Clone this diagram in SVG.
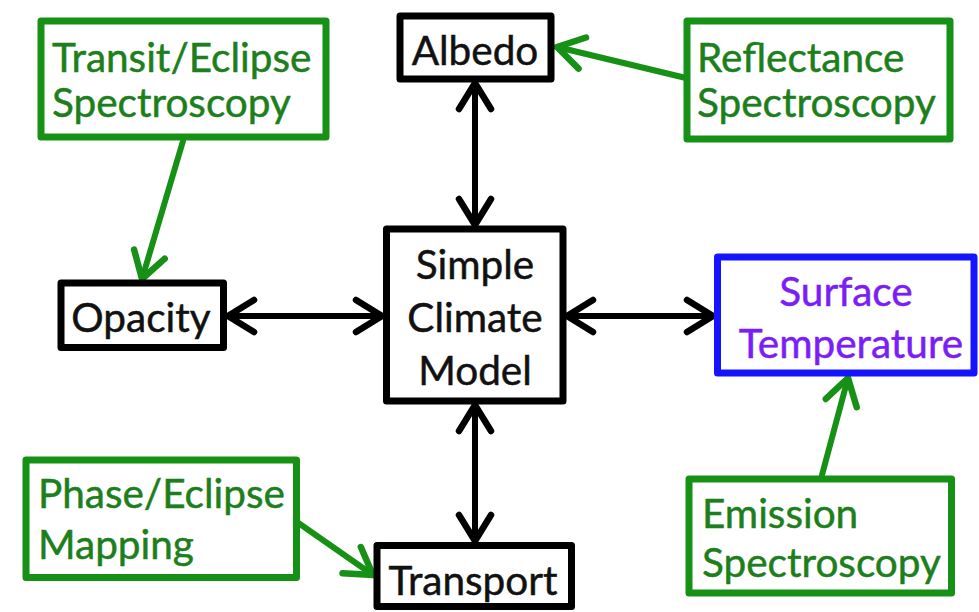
<svg xmlns="http://www.w3.org/2000/svg" width="979" height="612" viewBox="0 0 979 612">
  <style>
    text { font-family: Lato, "Open Sans", "Liberation Sans", sans-serif; font-size: 40.5px; stroke-width: 0.5; }
    .box { fill: #ffffff; stroke-width: 7; stroke-linejoin: round; }
    .core { stroke: #000000; }
    .obs { stroke: #169116; }
    .target { stroke: #1414ff; }
    .lbl-core { fill: #111111; stroke: #111111; text-anchor: middle; }
    .lbl-obs { fill: #1c7f1c; stroke: #1c7f1c; }
    .lbl-target { fill: #7a1ef5; stroke: #7a1ef5; text-anchor: middle; }
    .link { fill: none; stroke-width: 6; stroke-linecap: round; }
    .link.black { stroke: #000000; }
    .link.green { stroke: #169116; }
  </style>
  <defs>
    <marker id="head-black" viewBox="-32 -22 36 44" refX="0" refY="0" markerUnits="userSpaceOnUse" markerWidth="36" markerHeight="44" orient="auto-start-reverse">
      <path d="M-26,-16 L0,0 L-26,16" fill="none" stroke="#000000" stroke-width="6.5" stroke-linecap="round" stroke-linejoin="round"/>
    </marker>
    <marker id="head-green" viewBox="-32 -22 36 44" refX="0" refY="0" markerUnits="userSpaceOnUse" markerWidth="36" markerHeight="44" orient="auto">
      <path d="M-26,-16 L0,0 L-26,16" fill="none" stroke="#169116" stroke-width="6.5" stroke-linecap="round" stroke-linejoin="round"/>
    </marker>
  </defs>

  <rect width="979" height="612" fill="#ffffff"/>

  <!-- connectors -->
  <g id="connectors">
    <line class="link black" x1="475" y1="83" x2="475" y2="225" marker-start="url(#head-black)" marker-end="url(#head-black)"/>
    <line class="link black" x1="228" y1="316" x2="382" y2="316" marker-start="url(#head-black)" marker-end="url(#head-black)"/>
    <line class="link black" x1="567" y1="316" x2="713" y2="316" marker-start="url(#head-black)" marker-end="url(#head-black)"/>
    <line class="link black" x1="475" y1="405" x2="475" y2="541" marker-start="url(#head-black)" marker-end="url(#head-black)"/>
    <line class="link green" x1="183" y1="141" x2="142" y2="279" marker-end="url(#head-green)"/>
    <line class="link green" x1="686" y1="78" x2="557" y2="47" marker-end="url(#head-green)"/>
    <line class="link green" x1="297" y1="522" x2="373" y2="575" marker-end="url(#head-green)"/>
    <line class="link green" x1="822" y1="475" x2="848" y2="378" marker-end="url(#head-green)"/>
  </g>

  <!-- model node and its parameters -->
  <g id="climate-model">
    <rect class="box core" x="386.5" y="229" width="176.5" height="172"/>
    <text class="lbl-core" x="475" y="279">Simple</text>
    <text class="lbl-core" x="475" y="332">Climate</text>
    <text class="lbl-core" x="475" y="385">Model</text>
  </g>
  <g id="albedo">
    <rect class="box core" x="400" y="16" width="151" height="63"/>
    <text class="lbl-core" x="475" y="65">Albedo</text>
  </g>
  <g id="opacity">
    <rect class="box core" x="61" y="283" width="162.5" height="64.5"/>
    <text class="lbl-core" x="141" y="332">Opacity</text>
  </g>
  <g id="transport">
    <rect class="box core" x="377" y="545.5" width="194.5" height="61"/>
    <text class="lbl-core" x="473" y="595">Transport</text>
  </g>
  <g id="surface-temperature">
    <rect class="box target" x="717.5" y="257" width="256.5" height="116"/>
    <text class="lbl-target" x="846" y="306">Surface</text>
    <text class="lbl-target" x="851" y="358">Temperature</text>
  </g>

  <!-- observational techniques -->
  <g id="transit-eclipse">
    <rect class="box obs" x="41" y="21" width="285" height="116"/>
    <text class="lbl-obs" x="52" y="72">Transit/Eclipse</text>
    <text class="lbl-obs" x="52" y="117">Spectroscopy</text>
  </g>
  <g id="reflectance">
    <rect class="box obs" x="687" y="21" width="263" height="118"/>
    <text class="lbl-obs" x="697" y="72">Reflectance</text>
    <text class="lbl-obs" x="697" y="117">Spectroscopy</text>
  </g>
  <g id="phase-eclipse">
    <rect class="box obs" x="26" y="460" width="270.5" height="117.5"/>
    <text class="lbl-obs" x="38" y="508">Phase/Eclipse</text>
    <text class="lbl-obs" x="38" y="559">Mapping</text>
  </g>
  <g id="emission">
    <rect class="box obs" x="689" y="479" width="262.5" height="114"/>
    <text class="lbl-obs" x="702" y="528">Emission</text>
    <text class="lbl-obs" x="702" y="577">Spectroscopy</text>
  </g>
</svg>
